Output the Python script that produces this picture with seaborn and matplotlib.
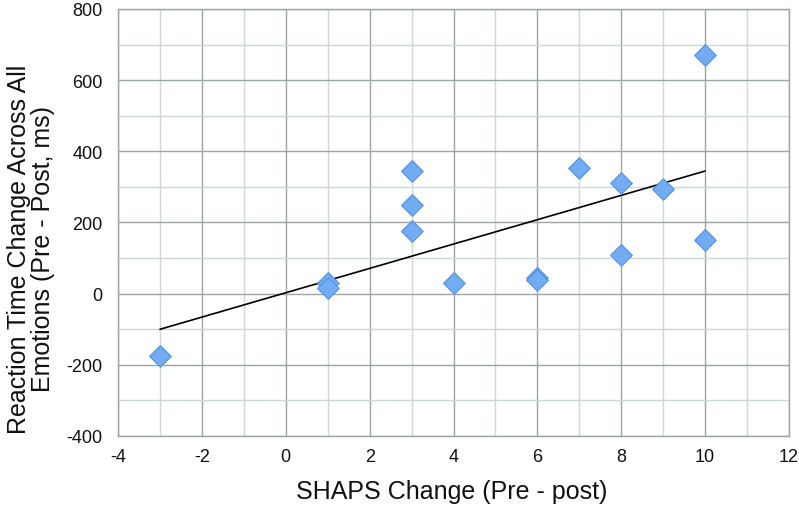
import matplotlib
matplotlib.use("Agg")
import matplotlib.pyplot as plt
import seaborn as sns
import numpy as np
import pandas as pd
from matplotlib.ticker import MultipleLocator

# Data
shaps_change = [-3, 1, 1, 3, 3, 3, 4, 6, 6, 7, 8, 8, 9, 10, 10]
rt_change = [-175, 30, 15, 345, 248, 175, 30, 45, 38, 352, 310, 110, 293, 670, 152]
x_ticks = [-4, -2, 0, 2, 4, 6, 8, 10, 12]
y_ticks = [-400, -200, 0, 200, 400, 600, 800]

df = pd.DataFrame({"x": shaps_change, "y": rt_change})

sns.set_style("white")
plt.rcParams["font.family"] = ["Liberation Sans", "DejaVu Sans"]
plt.rcParams["axes.unicode_minus"] = False

fig = plt.figure(figsize=(7.99, 5.06), dpi=100)
ax = fig.add_axes([0.1477, 0.1364, 0.8398, 0.8439])

major_c = "#9aa5a5"
minor_c = "#cfd6d6"

ax.set_xlim(-4, 12)
ax.set_ylim(-400, 800)
ax.xaxis.set_major_locator(MultipleLocator(2))
ax.xaxis.set_minor_locator(MultipleLocator(1))
ax.yaxis.set_major_locator(MultipleLocator(200))
ax.yaxis.set_minor_locator(MultipleLocator(100))
ax.grid(True, which="major", color=major_c, linewidth=1.0, zorder=0)
ax.grid(True, which="minor", color=minor_c, linewidth=1.0, zorder=0)
ax.set_axisbelow(True)

for s in ax.spines.values():
    s.set_color(major_c)
    s.set_linewidth(1.0)

ax.tick_params(which="major", direction="out", length=4, width=1, color=major_c,
               labelsize=13, labelcolor="#111111")
ax.tick_params(axis="x", which="major", length=0, pad=9)
ax.tick_params(axis="y", which="major", pad=7)
ax.tick_params(which="minor", length=0)
ax.set_xticks(x_ticks)
ax.set_yticks(y_ticks)

# regression line
sns.regplot(data=df, x="x", y="y", ax=ax, scatter=False, ci=None, truncate=True,
            line_kws={"color": "black", "linewidth": 1.2, "zorder": 3})

# diamonds: soft shadow + main marker
sns.scatterplot(data=df, x="x", y="y", ax=ax, marker="D", s=135,
                color="#8a9aaa", alpha=0.3, edgecolor="none", zorder=4,
                legend=False)
sns.scatterplot(data=df, x="x", y="y", ax=ax, marker="D", s=120,
                color="#72acf3", edgecolor="#5592e0", linewidth=0.8, zorder=5,
                legend=False)

ax.set_xlim(-4, 12)
ax.set_ylim(-400, 800)

ax.set_xlabel("SHAPS Change (Pre - post)", fontsize=18, color="#111111")
ax.set_ylabel("Reaction Time Change Across All\nEmotions (Pre - Post, ms)",
              fontsize=18, color="#111111", linespacing=1.0)
ax.xaxis.set_label_coords(0.498, -0.129)
ax.xaxis.label.set_verticalalignment("center")
ax.yaxis.set_label_coords(-0.13, 0.44)
ax.yaxis.label.set_verticalalignment("center")
ax.yaxis.label.set_horizontalalignment("center")

fig.savefig("out.png", dpi=100)
